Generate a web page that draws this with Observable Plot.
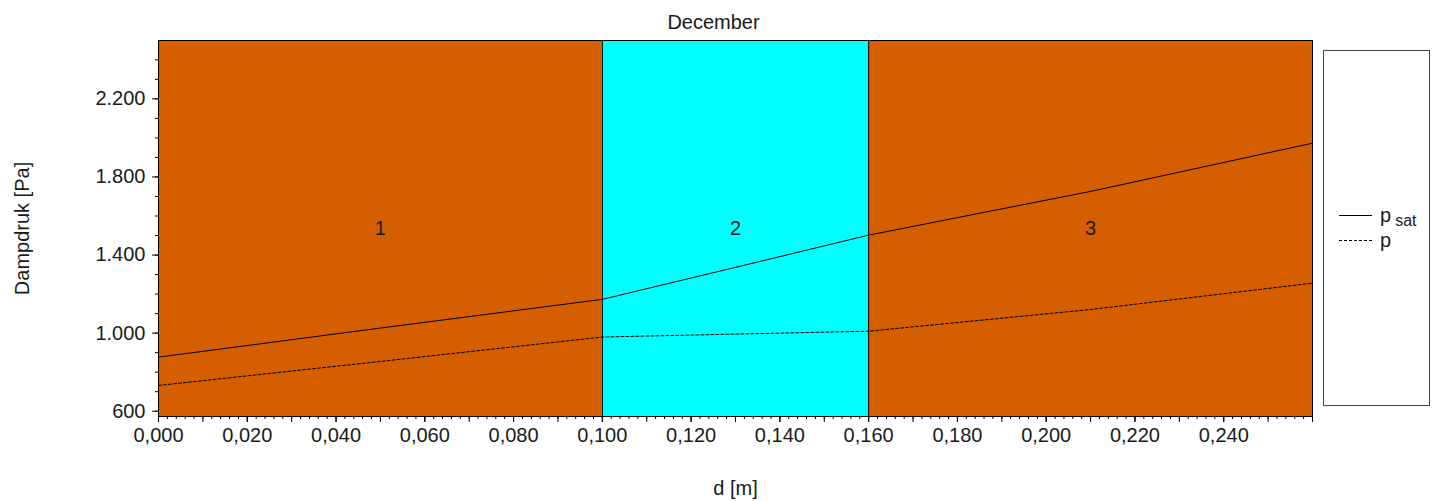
<!DOCTYPE html>
<html>
<head>
<meta charset="utf-8">
<script src="https://cdn.jsdelivr.net/npm/d3@7"></script>
<script src="https://cdn.jsdelivr.net/npm/@observablehq/plot@0.6"></script>
<style>
  html, body { margin: 0; padding: 0; background: #fff; }
  #wrap { position: relative; width: 1441px; height: 501px; font-family: "Liberation Sans", Arial, sans-serif; }
  #legend { position: absolute; left: 1323px; top: 50px; }
</style>
</head>
<body>
<div id="wrap"></div>
<script>
// ---- data ----
const title = "December";
const xLabel = "d [m]";
const yLabel = "Dampdruk [Pa]";
const layerNames = ["1", "2", "3"];
const layerStart = [0, 0.1, 0.16];
const layerEnd = [0.1, 0.16, 0.26];
const layerColor = ["#D45E00", "#00FFFF", "#D45E00"];
const layerMid = [0.05, 0.13, 0.21];
const dPos = [0, 0.05, 0.1, 0.13, 0.16, 0.21, 0.26];
const pSat = [877, 1026, 1173, 1337, 1502, 1726, 1973];
const pAct = [732, 855, 980, 995, 1010, 1121, 1256];
const xMajorTicks = [0, 0.02, 0.04, 0.06, 0.08, 0.1, 0.12, 0.14, 0.16, 0.18, 0.2, 0.22, 0.24];
const yMajorTicks = [600, 1000, 1400, 1800, 2200];

const locale = d3.formatLocale({decimal: ",", thousands: ".", grouping: [3], currency: ["", ""]});
const fx = locale.format(".3f");
const fy = locale.format(",d");

const layers = layerNames.map((n, i) => ({name: n, x1: layerStart[i], x2: layerEnd[i], color: layerColor[i], mid: layerMid[i]}));
const series = dPos.map((d, i) => ({d, psat: pSat[i], p: pAct[i]}));
const xMedium = d3.range(0, 27).map(i => i / 100);
const xMinor = d3.range(0, 131).map(i => i / 500);
const yMinor = d3.range(600, 2500, 100);

const font = "Liberation Sans, Arial, sans-serif";
const ink = "#1a1a1a";

const chart = Plot.plot({
  width: 1441,
  height: 501,
  marginLeft: 158,
  marginRight: 129,
  marginTop: 40,
  marginBottom: 85,
  style: {fontFamily: font, fontSize: "20px", color: ink, background: "white", overflow: "visible"},
  x: {domain: [0, 0.26]},
  y: {domain: [573, 2499]},
  marks: [
    Plot.rect(layers, {x1: "x1", x2: "x2", fill: "color"}),
    Plot.ruleX(layerStart.slice(1), {stroke: "black", strokeWidth: 1}),
    Plot.line(series, {x: "d", y: "psat", stroke: "black", strokeWidth: 1}),
    Plot.line(series, {x: "d", y: "p", stroke: "black", strokeWidth: 1, strokeDasharray: "3,2"}),
    Plot.text(layers, {x: "mid", frameAnchor: "middle", text: "name", fontSize: 20, fill: ink}),
    Plot.frame({stroke: "black", strokeWidth: 1}),
    Plot.axisX({ticks: xMinor, tickSize: 3, tickFormat: () => "", stroke: "black"}),
    Plot.axisX({ticks: xMedium, tickSize: 6, tickFormat: () => "", stroke: "black"}),
    Plot.axisX({ticks: xMajorTicks, tickSize: 6, tickPadding: 5, tickFormat: fx, fontSize: 20, label: null, stroke: "black", fill: ink}),
    Plot.axisY({ticks: yMinor, tickSize: 3, tickFormat: () => "", stroke: "black"}),
    Plot.axisY({ticks: yMajorTicks, tickSize: 6, tickPadding: 7, tickFormat: fy, fontSize: 20, label: null, stroke: "black", fill: ink}),
    Plot.text([title], {frameAnchor: "top", lineAnchor: "middle", dy: -18, dx: -22, fontSize: 20, fill: ink}),
    Plot.text([xLabel], {frameAnchor: "bottom", lineAnchor: "middle", dy: 72, fontSize: 20, fill: ink}),
    Plot.text([yLabel], {frameAnchor: "left", textAnchor: "middle", lineAnchor: "middle", dx: -136, rotate: -90, fontSize: 20, fill: ink})
  ]
});
document.getElementById("wrap").appendChild(chart);

// legend
const legendItems = [
  {main: "p", sub: "sat", dash: null},
  {main: "p", sub: "", dash: "3,2"}
];
const lg = d3.create("svg").attr("id", "legend").attr("width", 108).attr("height", 357)
  .style("font-family", font);
lg.append("rect").attr("x", 0.5).attr("y", 0.5).attr("width", 106).attr("height", 355)
  .attr("fill", "white").attr("stroke", "#444");
legendItems.forEach((it, i) => {
  const y = 165.5 + i * 25;
  lg.append("line").attr("x1", 16).attr("x2", 49).attr("y1", y).attr("y2", y)
    .attr("stroke", "black").attr("stroke-width", 1).attr("stroke-dasharray", it.dash);
  const t = lg.append("text").attr("x", 57).attr("y", y + 6).attr("font-size", 20).attr("fill", ink);
  t.append("tspan").text(it.main);
  if (it.sub) t.append("tspan").attr("font-size", 16).attr("dx", 4).attr("dy", 4).text(it.sub);
});
document.getElementById("wrap").appendChild(lg.node());
</script>
</body>
</html>
